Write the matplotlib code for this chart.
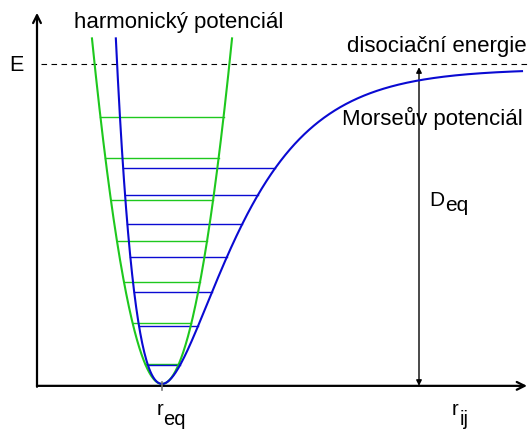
import numpy as np
import matplotlib
matplotlib.use("Agg")
from matplotlib import pyplot as plt

plt.rcParams['font.family'] = ['Liberation Sans', 'DejaVu Sans']

# potential parameters (energy in units of the dissociation energy)
r_eq = 1.0
D_eq = 1.0
morse_D = 0.985
morse_a = 1.94
harm_k = 3.44
E_top = 1.08

# vibrational levels
harm_levels = [0.0625, 0.191, 0.319, 0.447, 0.575, 0.706, 0.834]
morse_levels = [0.058, 0.181, 0.2875, 0.397, 0.5, 0.59, 0.675]

r_max = 3.88

green = '#1ec81e'
blue = '#0a0ad2'


def morse(r):
    return morse_D * (1 - np.exp(-morse_a * (r - r_eq))) ** 2


def harmonic(r):
    return harm_k * (r - r_eq) ** 2


def morse_turning(E):
    s = np.sqrt(E / morse_D)
    if s >= 1:
        return r_eq - np.log(1 + s) / morse_a, r_max
    return r_eq - np.log(1 + s) / morse_a, r_eq - np.log(1 - s) / morse_a


def harm_turning(E):
    s = np.sqrt(E / harm_k)
    return r_eq - s, r_eq + s


def sub_label(ax, x, y, base, sub, drop, fs):
    # base letter on the baseline, subscript right after it, dropped by `drop` points
    t = ax.text(x, y, base, fontsize=fs, ha='left', va='baseline')
    ax.annotate(sub, xy=(1, y), xycoords=(t, 'data'), xytext=(0.3, -drop),
                textcoords='offset points', fontsize=fs, ha='left', va='baseline')


fig = plt.figure(figsize=(5.3, 4.3), dpi=100)
ax = fig.add_axes([0, 0, 1, 1])
ax.set_xlim(-0.296, 3.944)
ax.set_ylim(-0.144, 1.2)
ax.axis('off')

# axes with arrows
axis_y = -0.006
ax.annotate('', xy=(3.92, axis_y), xytext=(0, axis_y),
            arrowprops=dict(arrowstyle='->', lw=1.6, color='black',
                            shrinkA=0, shrinkB=0, mutation_scale=14))
ax.annotate('', xy=(0, 1.16), xytext=(0, axis_y - 0.003),
            arrowprops=dict(arrowstyle='->', lw=1.6, color='black',
                            shrinkA=0, shrinkB=0, mutation_scale=14))

# dissociation level
ax.plot([0.03, 3.92], [D_eq, D_eq], color='black', lw=0.8, ls=(0, (5, 4)))

# harmonic curve and its levels
rl, rr = harm_turning(E_top)
r = np.linspace(rl, rr, 300)
ax.plot(r, harmonic(r), color=green, lw=1.5, zorder=3)
for E in harm_levels:
    a, b = harm_turning(E)
    ax.plot([a, b], [E, E], color=green, lw=1.0, zorder=2)

# Morse curve and its levels
rl, _ = morse_turning(E_top)
r = np.linspace(rl, r_max, 600)
ax.plot(r, morse(r), color=blue, lw=1.5, zorder=4)
for E in morse_levels:
    a, b = morse_turning(E)
    ax.plot([a, b], [E, E], color=blue, lw=1.0, zorder=2)

# r_eq tick
ax.plot([r_eq, r_eq], [-0.018, 0.005], color='#777777', lw=1.2, zorder=5)

# D_eq double arrow
r_D = 3.056
ax.annotate('', xy=(r_D, D_eq - 0.01), xytext=(r_D, axis_y),
            arrowprops=dict(arrowstyle='<|-|>', lw=1.0, color='black',
                            shrinkA=0, shrinkB=0, mutation_scale=8))

fs = 16
ax.text(-0.165, 0.995, 'E', fontsize=15.5, ha='center', va='center')
ax.text(0.3, 1.13, 'harmonický potenciál', fontsize=fs, ha='left', va='center')
ax.text(2.48, 1.056, 'disociační energie', fontsize=fs, ha='left', va='center')
ax.text(2.44, 0.83, 'Morseův potenciál', fontsize=fs, ha='left', va='center')
sub_label(ax, 3.14, 0.556, 'D', 'eq', 3.6, 15)
sub_label(ax, 0.955, -0.097, 'r', 'eq', 7.2, 14.5)
sub_label(ax, 3.32, -0.097, 'r', 'ij', 7.2, 14.5)

fig.savefig('out.png', dpi=100)
